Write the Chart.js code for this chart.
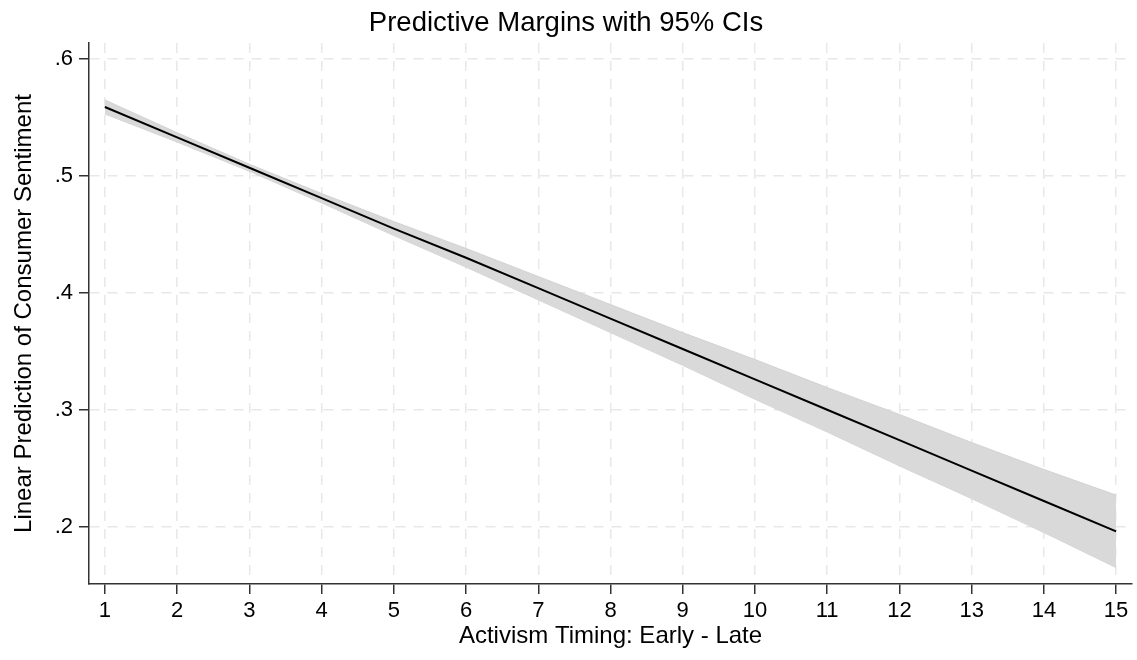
<!DOCTYPE html>
<html>
<head>
<meta charset="utf-8">
<title>Predictive Margins</title>
<script src="https://cdn.jsdelivr.net/npm/chart.js@4/dist/chart.umd.min.js"></script>
<style>
  html, body { margin: 0; padding: 0; background: #fff; }
  #wrap { width: 1137px; height: 660px; }
</style>
</head>
<body>
<div id="wrap"><canvas id="marginsChart"></canvas></div>
<script>
// Values
const timing = [1, 2, 3, 4, 5, 6, 7, 8, 9, 10, 11, 12, 13, 14, 15];
const margin = [0.559, 0.533, 0.507, 0.481, 0.455, 0.430, 0.404, 0.378, 0.352, 0.326, 0.300, 0.274, 0.248, 0.222, 0.196];
const ciUpper = [0.565, 0.537, 0.510, 0.485, 0.461, 0.438, 0.414, 0.390, 0.366, 0.343, 0.319, 0.296, 0.272, 0.249, 0.227];
const ciLower = [0.553, 0.529, 0.504, 0.477, 0.449, 0.422, 0.394, 0.366, 0.338, 0.309, 0.281, 0.252, 0.224, 0.195, 0.165];
const xTicks = [1, 2, 3, 4, 5, 6, 7, 8, 9, 10, 11, 12, 13, 14, 15];
const yTicks = [0.2, 0.3, 0.4, 0.5, 0.6];

const pts = arr => arr.map((v, i) => ({ x: timing[i], y: v }));
const font = 'Liberation Sans, Arial, Helvetica, sans-serif';

// shared grid look for both axes
const gridOpts = {
    color: '#e8e8e8',
    lineWidth: 1.5,
    tickColor: '#333',
    tickLength: 10,
    tickWidth: 1.5
};

new Chart(document.getElementById('marginsChart'), {
    type: 'line',
    data: {
        datasets: [
            {
                label: 'upper',
                data: pts(ciUpper),
                borderColor: '#d2d2d2',
                borderWidth: 1,
                backgroundColor: '#d9d9d9',
                fill: '+1',
                pointRadius: 0,
                order: 2
            },
            {
                label: 'lower',
                data: pts(ciLower),
                borderColor: '#d2d2d2',
                borderWidth: 1,
                fill: false,
                pointRadius: 0,
                order: 2
            },
            {
                label: 'margin',
                data: pts(margin),
                borderColor: '#000',
                borderWidth: 2,
                fill: false,
                pointRadius: 0,
                order: 1
            }
        ]
    },
    options: {
        responsive: true,
        maintainAspectRatio: false,
        animation: false,
        layout: { padding: { left: 0, right: 5, top: 0, bottom: 0 } },
        plugins: {
            legend: { display: false },
            tooltip: { enabled: false },
            title: {
                display: true,
                text: 'Predictive Margins with 95% CIs',
                color: '#000',
                font: { family: font, size: 27.5, weight: 'normal' },
                padding: { top: 7, bottom: 3 }
            }
        },
        scales: {
            x: {
                type: 'linear',
                min: 0.78,
                max: 15.22,
                afterBuildTicks: s => { s.ticks = xTicks.map(v => ({ value: v })); },
                afterFit: s => { s.height = 76; },
                ticks: {
                    color: '#000',
                    font: { family: font, size: 22 },
                    padding: 4,
                    maxRotation: 0
                },
                grid: gridOpts,
                border: { color: '#333', width: 1.5, dash: [10, 8] },
                title: {
                    display: true,
                    text: 'Activism Timing: Early - Late',
                    color: '#000',
                    font: { family: font, size: 24 },
                    padding: { top: 2, bottom: 9 }
                }
            },
            y: {
                type: 'linear',
                min: 0.151,
                max: 0.6137,
                afterBuildTicks: s => { s.ticks = yTicks.map(v => ({ value: v })); },
                afterFit: s => { s.width = 89; },
                ticks: {
                    color: '#000',
                    font: { family: font, size: 22 },
                    padding: 6,
                    callback: v => v.toFixed(1).replace(/^0/, '')
                },
                grid: gridOpts,
                border: { color: '#333', width: 1.5, dash: [10, 8] },
                title: {
                    display: true,
                    text: 'Linear Prediction of Consumer Sentiment',
                    color: '#000',
                    font: { family: font, size: 24 },
                    padding: { top: 10, bottom: 2 }
                }
            }
        }
    }
});
</script>
</body>
</html>
